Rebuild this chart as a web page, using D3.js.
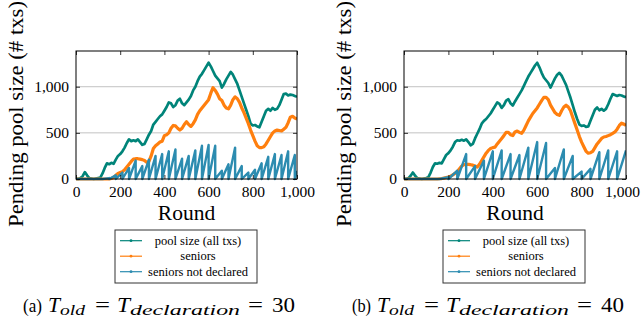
<!DOCTYPE html>
<html>
<head>
<meta charset="utf-8">
<script src="https://cdn.jsdelivr.net/npm/d3@7"></script>
<style>
  body { margin: 0; background: #fff; }
  svg { display: block; }
  svg text { font-family: "Liberation Serif", "Times New Roman", Times, serif; }
</style>
</head>
<body>
<svg width="641" height="323"></svg>
<script>
// ---- data ----
const xTicks = [0, 200, 400, 600, 800, 1000];
const yTicks = [0, 500, 1000];
const seriesNames = ["pool size (all txs)", "seniors", "seniors not declared"];

const rounds = [0, 10, 20, 30, 40, 50, 60, 70, 80, 90, 100, 110, 120, 130, 140, 150, 160, 170, 180, 190,
  200, 210, 220, 230, 240, 250, 260, 270, 280, 290, 300, 310, 320, 330, 340, 350, 360, 370, 380, 390,
  400, 410, 420, 430, 440, 450, 460, 470, 480, 490, 500, 510, 520, 530, 540, 550, 560, 570, 580, 590,
  600, 610, 620, 630, 640, 650, 660, 670, 680, 690, 700, 710, 720, 730, 740, 750, 760, 770, 780, 790,
  800, 810, 820, 830, 840, 850, 860, 870, 880, 890, 900, 910, 920, 930, 940, 950, 960, 970, 980, 990, 1000];

// (a) T = 30
const poolA = [5, 0, 10, 30, 75, 40, 10, 5, 0, 5, 10, 15, 60, 120, 170, 160, 175, 165, 210, 250,
  270, 300, 340, 390, 430, 410, 420, 410, 430, 400, 370, 380, 430, 480, 520, 590, 620, 650, 680, 700,
  740, 780, 830, 820, 780, 800, 850, 870, 820, 800, 830, 860, 900, 960, 1000, 1060, 1110, 1140, 1180, 1220,
  1260, 1220, 1170, 1120, 1090, 1060, 990, 1030, 1080, 1120, 1160, 1130, 1080, 1030, 960, 890, 820, 750, 680, 600,
  580, 585, 570, 560, 620, 680, 740, 760, 740, 770, 750, 760, 800, 860, 920, 925, 905, 915, 910, 900, 890];
const seniorsA = [0, 0, 0, 0, 0, 0, 0, 0, 0, 0, 0, 0, 0, 0, 0, 0, 5, 15, 40, 60,
  70, 80, 100, 130, 160, 190, 215, 220, 220, 215, 210, 200, 180, 190, 250, 330, 360, 380, 400, 410,
  470, 480, 500, 550, 580, 575, 550, 530, 550, 590, 620, 590, 570, 600, 640, 700, 740, 770, 800, 830,
  860, 930, 990, 960, 920, 870, 850, 800, 770, 760, 800, 860, 890, 870, 830, 770, 720, 660, 600, 530,
  470, 410, 360, 340, 340, 350, 380, 420, 460, 500, 520, 530, 525, 520, 540, 560, 610, 670, 680, 660, 650];
// saw-tooth: value climbs from 0 and drops back to 0 at each drop round
const notDeclAStart = 120;
const notDeclADrops = [150, 180, 210, 240, 270, 300, 330, 360, 390, 420, 450, 480, 510, 540, 570, 600,
  630, 660, 690, 720, 750, 780, 810, 840, 870, 900, 930, 960, 990, 1000];
const notDeclAPeaks = [10, 40, 70, 120, 200, 140, 210, 250, 270, 300, 320, 220, 250, 310, 360, 370,
  360, 90, 160, 340, 140, 70, 100, 170, 240, 270, 260, 300, 260, 90];

// (b) T = 40
const poolB = [5, 0, 10, 35, 70, 35, 10, 5, 0, 5, 10, 20, 70, 130, 170, 165, 175, 170, 215, 260,
  280, 310, 350, 400, 420, 415, 425, 415, 430, 400, 365, 380, 440, 490, 540, 600, 630, 650, 680, 710,
  750, 790, 830, 815, 770, 800, 850, 865, 820, 795, 840, 880, 920, 960, 1010, 1060, 1110, 1150, 1190, 1230,
  1260, 1210, 1150, 1100, 1070, 1040, 990, 1040, 1090, 1130, 1150, 1120, 1070, 1020, 950, 880, 800, 720, 650, 590,
  575, 580, 565, 570, 630, 690, 750, 775, 745, 760, 740, 760, 810, 870, 920, 910, 900, 910, 905, 895, 885];
const seniorsB = [0, 0, 0, 0, 0, 0, 0, 0, 0, 0, 0, 0, 0, 0, 0, 0, 3, 5, 10, 15,
  20, 30, 45, 60, 80, 110, 140, 155, 160, 158, 155, 150, 140, 130, 160, 200, 240, 280, 310, 330,
  340, 345, 380, 410, 440, 470, 505, 505, 480, 470, 510, 520, 505, 495, 530, 580, 630, 670, 710, 740,
  770, 810, 850, 885, 885, 860, 800, 760, 720, 700, 690, 740, 780, 800, 780, 740, 670, 600, 530, 460,
  400, 350, 300, 280, 285, 300, 340, 380, 410, 440, 455, 460, 470, 480, 495, 510, 540, 580, 605, 595, 580];
const notDeclBStart = 160;
const notDeclBDrops = [200, 240, 280, 320, 360, 400, 440, 480, 520, 560, 600, 640, 680, 720, 760, 800,
  840, 880, 920, 960, 1000];
const notDeclBPeaks = [20, 90, 270, 140, 200, 300, 310, 270, 260, 340, 400, 390, 120, 320, 250, 80,
  110, 290, 310, 300, 310];

// ---- layout ----
const colors = ["#008479", "#ff7f0e", "#2c8cb0"];
const widths = [2.7, 3.2, 2.4];
const svg = d3.select("svg");

function toothPoints(start, drops, peaks) {
  const pts = [[0, 0], [start, 0]];
  drops.forEach((d, i) => {
    pts.push([d, peaks[i]]);
    if (d < 1000) pts.push([d, 0]);
  });
  return pts;
}

function panel(opt) {
  const { left, right, top, bottom, pool, seniors, notDecl, caption } = opt;
  const g = svg.append("g");
  const x = d3.scaleLinear().domain([0, 1000]).range([left, right]);
  const y = d3.scaleLinear().domain([0, 1387]).range([bottom, top]);

  // grid
  g.append("g").selectAll("line").data(yTicks.filter(d => d > 0)).join("line")
    .attr("x1", left).attr("x2", right)
    .attr("y1", d => y(d)).attr("y2", d => y(d))
    .attr("stroke", "#b4b4b4").attr("stroke-width", 0.8);

  const clip = "clip" + Math.round(left);
  g.append("clipPath").attr("id", clip).append("rect")
    .attr("x", left).attr("y", top).attr("width", right - left).attr("height", bottom - top + 2);

  const line = d3.line().x(d => x(d[0])).y(d => y(d[1]));
  const series = [
    rounds.map((r, i) => [r, pool[i]]),
    rounds.map((r, i) => [r, seniors[i]]),
    toothPoints(notDecl.start, notDecl.drops, notDecl.peaks)
  ];
  g.append("g").attr("clip-path", `url(#${clip})`)
    .selectAll("path").data(series).join("path")
    .attr("d", line)
    .attr("fill", "none")
    .attr("stroke", (d, i) => colors[i])
    .attr("stroke-width", (d, i) => widths[i])
    .attr("stroke-linejoin", "round");

  // axes with inward ticks
  const ax = g.append("g");
  const bx = ax.append("g").attr("transform", `translate(0,${bottom})`)
    .call(d3.axisBottom(x).tickValues(xTicks).tickSize(-4).tickPadding(7).tickFormat(d3.format(",")))
    .call(s => s.select(".domain").remove());
  // keep the last label inside the page
  bx.selectAll(".tick text").filter(d => d === 1000).attr("dx", opt.lastDx || 0);
  ax.append("g").attr("transform", `translate(0,${top})`)
    .call(d3.axisTop(x).tickValues(xTicks).tickSize(-4).tickFormat(""))
    .call(s => s.select(".domain").remove());
  ax.append("g").attr("transform", `translate(${left},0)`)
    .call(d3.axisLeft(y).tickValues(yTicks).tickSize(-4).tickPadding(7).tickFormat(d3.format(",")))
    .call(s => s.select(".domain").remove());
  ax.append("g").attr("transform", `translate(${right},0)`)
    .call(d3.axisRight(y).tickValues(yTicks).tickSize(-4).tickFormat(""))
    .call(s => s.select(".domain").remove());
  ax.selectAll("text").style("font-size", "15.5px").attr("fill", "#000");
  ax.selectAll(".tick line").attr("stroke", "#000").attr("stroke-width", 0.8);

  g.append("rect")
    .attr("x", left).attr("y", top).attr("width", right - left).attr("height", bottom - top)
    .attr("fill", "none").attr("stroke", "#000").attr("stroke-width", 1);

  // axis titles
  g.append("text")
    .attr("x", (left + right) / 2).attr("y", 220)
    .attr("text-anchor", "middle")
    .style("font-size", "21.5px")
    .text("Round");
  g.append("text")
    .attr("transform", `translate(${left - 53},${(top + bottom) / 2 - 1}) rotate(-90)`)
    .attr("text-anchor", "middle")
    .attr("textLength", 226).attr("lengthAdjust", "spacingAndGlyphs")
    .style("font-size", "21.5px")
    .text("Pending pool size (# txs)");

  // legend
  const lx = opt.legendX, ly = 230, lw = 142, lh = 53;
  const lg = g.append("g");
  lg.append("rect").attr("x", lx).attr("y", ly).attr("width", lw).attr("height", lh)
    .attr("fill", "#fff").attr("stroke", "#333").attr("stroke-width", 1);
  const row = lg.selectAll("g.row").data(seriesNames).join("g")
    .attr("transform", (d, i) => `translate(0,${ly + 10.7 + i * 15.5})`);
  row.append("line")
    .attr("x1", lx + 5).attr("x2", lx + 27)
    .attr("stroke", (d, i) => colors[i]).attr("stroke-width", 1.2);
  row.append("circle")
    .attr("cx", lx + 16).attr("r", 1.4)
    .attr("fill", (d, i) => colors[i]);
  row.append("text")
    .attr("x", lx + 83).attr("y", 4)
    .attr("text-anchor", "middle")
    .style("font-size", "12.5px")
    .text(d => d);

  // caption
  const c = caption, cy = 312;
  const cap = g.append("g").attr("fill", "#000");
  const put = (tx, xx, w, size, italic, dy) => {
    const t = cap.append("text").attr("x", xx).attr("y", cy + (dy || 0))
      .style("font-size", size + "px").style("font-style", italic ? "italic" : "normal").text(tx);
    if (w) t.attr("textLength", w).attr("lengthAdjust", "spacingAndGlyphs");
  };
  put(c.label, c.x0, 19, 19, false);
  put("T", c.x0 + 25, 12, 20, true);
  put("old", c.x0 + 37, 25, 15, true, 3);
  put("=", c.x0 + 72, 15, 20, false);
  put("T", c.x0 + 94, 13, 20, true);
  put("declaration", c.x0 + 107, 110, 15, true, 3);
  put("=", c.x0 + 225, 15, 20, false);
  put(c.value, c.x0 + 249, 23, 20, false);
}

panel({ left: 76, right: 297, top: 51, bottom: 179, legendX: 115,
  pool: poolA, seniors: seniorsA,
  notDecl: { start: notDeclAStart, drops: notDeclADrops, peaks: notDeclAPeaks },
  caption: { label: "(a)", value: "30", x0: 23 } });
panel({ left: 404, right: 626, top: 51, bottom: 179, legendX: 443, lastDx: -4,
  pool: poolB, seniors: seniorsB,
  notDecl: { start: notDeclBStart, drops: notDeclBDrops, peaks: notDeclBPeaks },
  caption: { label: "(b)", value: "40", x0: 352 } });
</script>
</body>
</html>
